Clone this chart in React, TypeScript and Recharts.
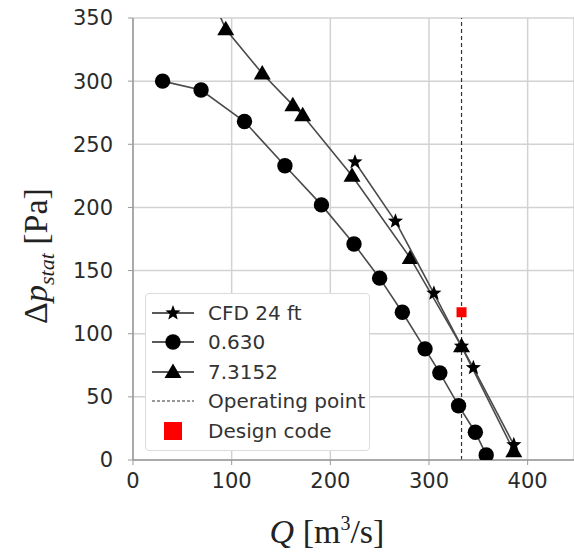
import React from 'react';
import { ScatterChart, Scatter, XAxis, YAxis, CartesianGrid, ReferenceLine, Legend } from 'recharts';

// Q [m3/s] and static pressure rise [Pa]
const cfdQ = [225, 266, 305, 333, 345, 386];
const cfdP = [236, 189, 132, 90, 73, 12];
const c630Q = [30, 69, 113, 154, 191, 224, 250, 273, 296, 311, 330, 347, 358];
const c630P = [300, 293, 268, 233, 202, 171, 144, 117, 88, 69, 43, 22, 4];
const c7315Q = [60, 94, 131, 162, 172, 222, 281, 333, 386];
const c7315P = [403, 341, 306, 281, 273, 225, 160, 90, 7];
const operatingQ = 333;
const designQ = [333];
const designP = [117];

const xTicks = [0, 100, 200, 300, 400];
const yTicks = [0, 50, 100, 150, 200, 250, 300, 350];

const seriesNames = ['CFD 24 ft', '0.630', '7.3152', 'Operating point', 'Design code'];

const zip = (qs: number[], ps: number[]) => qs.map((q, i) => ({ x: q, y: ps[i] }));
const cfdData = zip(cfdQ, cfdP);
const c630Data = zip(c630Q, c630P);
const c7315Data = zip(c7315Q, c7315P);
const designData = zip(designQ, designP);

const FONT = '"DejaVu Sans", Verdana, sans-serif';
const SERIF = '"Liberation Serif", "Times New Roman", serif';
const LINE_COLOR = '#4a4a4a';

const starPath = (cx: number, cy: number, R: number, r: number) => {
  const pts: string[] = [];
  for (let i = 0; i < 10; i++) {
    const rad = i % 2 === 0 ? R : r;
    const a = -Math.PI / 2 + (i * Math.PI) / 5;
    pts.push(`${(cx + rad * Math.cos(a)).toFixed(2)},${(cy + rad * Math.sin(a)).toFixed(2)}`);
  }
  return `M${pts.join('L')}Z`;
};

const StarShape = (p: any) => <path d={starPath(p.cx, p.cy, 8, 3.4)} fill="#000" />;
const CircleShape = (p: any) => <circle cx={p.cx} cy={p.cy} r={7.7} fill="#000" />;
const TriShape = (p: any) => (
  <path d={`M${p.cx},${p.cy - 8.5}L${p.cx + 8.5},${p.cy + 6}L${p.cx - 8.5},${p.cy + 6}Z`} fill="#000" />
);
const SquareShape = (p: any) => <rect x={p.cx - 5} y={p.cy - 5} width={10} height={10} fill="#ff0000" />;

const LegendIcon = ({ kind }: { kind: number }) => (
  <svg width={46} height={22} style={{ display: 'block' }}>
    {kind < 3 && <line x1={2} y1={11} x2={44} y2={11} stroke="#222" strokeWidth={1.5} />}
    {kind === 0 && <path d={starPath(23, 11, 8, 3.4)} fill="#000" />}
    {kind === 1 && <circle cx={23} cy={11} r={7.7} fill="#000" />}
    {kind === 2 && <path d="M23,2.5L31.5,17L14.5,17Z" fill="#000" />}
    {kind === 3 && <line x1={2} y1={11} x2={44} y2={11} stroke="#333" strokeWidth={1} strokeDasharray="3 2" />}
    {kind === 4 && <rect x={14} y={2} width={18} height={18} fill="#ff0000" />}
  </svg>
);

const LegendBox = () => (
  <div
    style={{
      background: '#fff',
      border: '1px solid #dcdcdc',
      borderRadius: 4,
      padding: '4px 0 4px 4px',
      width: 225,
      boxSizing: 'border-box',
      fontFamily: FONT,
      fontSize: 20,
      color: '#333',
    }}
  >
    {seriesNames.map((n, i) => (
      <div key={n} style={{ display: 'flex', alignItems: 'center', height: 29.5 }}>
        <LegendIcon kind={i} />
        <span style={{ marginLeft: 12, whiteSpace: 'nowrap' }}>{n}</span>
      </div>
    ))}
  </div>
);

const YLabel = () => (
  <text
    transform="translate(47,256) rotate(-90)"
    textAnchor="middle"
    fontFamily={SERIF}
    fontSize={34}
    fill="#222"
  >
    <tspan>Δ</tspan>
    <tspan fontStyle="italic">p</tspan>
    <tspan fontStyle="italic" fontSize={22} dy={7}>stat</tspan>
    <tspan dy={-7}> [Pa]</tspan>
  </text>
);

const XLabel = () => (
  <text x={327} y={543} textAnchor="middle" fontFamily={SERIF} fontSize={34} fill="#222">
    <tspan fontStyle="italic">Q</tspan>
    <tspan> [m</tspan>
    <tspan fontSize={20} dy={-13}>3</tspan>
    <tspan dy={13}>/s]</tspan>
  </text>
);

export default function App() {
  return (
    <div style={{ position: 'absolute', left: 0, top: 0, width: 574, height: 554, background: '#fff' }}>
      <ScatterChart width={574} height={554} margin={{ top: 18, right: 0, bottom: 0, left: 0 }}>
        <CartesianGrid stroke="#d2d2d2" strokeWidth={1.5} />
        <XAxis
          type="number"
          dataKey="x"
          domain={[0, 447]}
          ticks={xTicks}
          allowDataOverflow
          height={94}
          tick={{ fontSize: 21, fill: '#2a2a2a', fontFamily: FONT }}
          tickSize={5}
          tickMargin={8}
          axisLine={{ stroke: '#999', strokeWidth: 1.5 }}
          tickLine={{ stroke: '#999' }}
          label={<XLabel />}
        />
        <YAxis
          type="number"
          dataKey="y"
          domain={[0, 350]}
          ticks={yTicks}
          allowDataOverflow
          width={133}
          tick={{ fontSize: 21, fill: '#2a2a2a', fontFamily: FONT }}
          tickSize={5}
          tickMargin={15}
          axisLine={{ stroke: '#999', strokeWidth: 1.5 }}
          tickLine={{ stroke: '#999' }}
          label={<YLabel />}
        />
        <ReferenceLine x={operatingQ} stroke="#333" strokeWidth={1.2} strokeDasharray="4 3" />
        <Scatter
          name={seriesNames[2]}
          data={c7315Data}
          line={{ stroke: LINE_COLOR, strokeWidth: 1.6 }}
          shape={TriShape}
          isAnimationActive={false}
        />
        <Scatter
          name={seriesNames[0]}
          data={cfdData}
          line={{ stroke: LINE_COLOR, strokeWidth: 1.6 }}
          shape={StarShape}
          isAnimationActive={false}
        />
        <Scatter
          name={seriesNames[1]}
          data={c630Data}
          line={{ stroke: LINE_COLOR, strokeWidth: 1.6 }}
          shape={CircleShape}
          isAnimationActive={false}
        />
        <Scatter name={seriesNames[4]} data={designData} shape={SquareShape} isAnimationActive={false} />
        <Legend
          layout="vertical"
          align="center"
          verticalAlign="middle"
          content={<LegendBox />}
          wrapperStyle={{ left: 145, top: 293, width: 225, height: 'auto' }}
        />
      </ScatterChart>
    </div>
  );
}
